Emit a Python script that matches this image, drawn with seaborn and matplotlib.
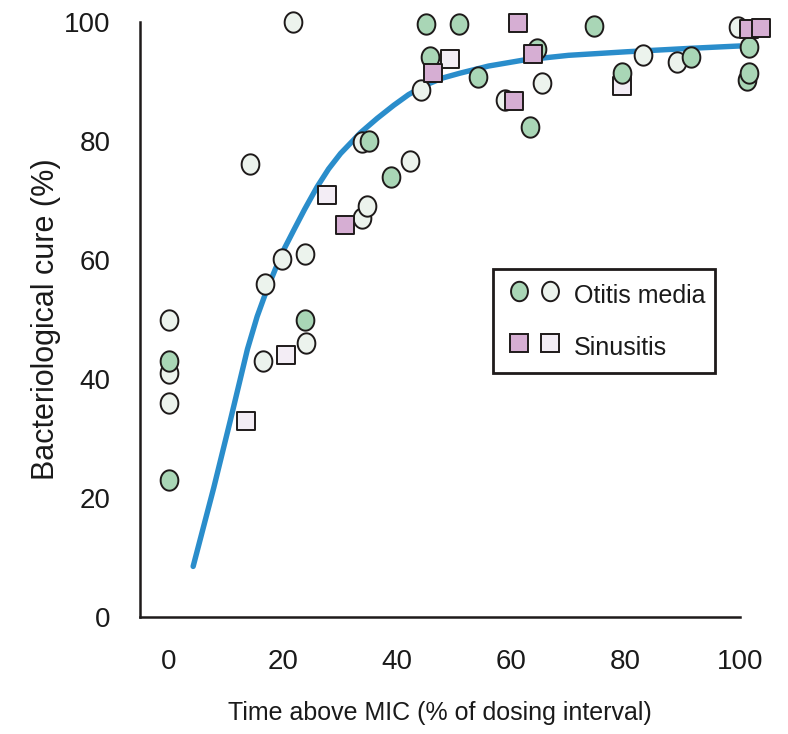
import numpy as np
import pandas as pd
import matplotlib
matplotlib.use("Agg")
import matplotlib.pyplot as plt
import seaborn as sns
from matplotlib.path import Path
from matplotlib.lines import Line2D
from matplotlib.legend_handler import HandlerTuple

# ---- data ----
otitis_filled_x = [0, 0, 23.8, 35.0, 39.0, 45.1, 45.7, 50.9, 54.1, 64.4, 63.3, 74.5, 79.3, 91.4, 101.3, 101.5, 101.6]
otitis_filled_y = [43, 23, 50, 80, 74, 99.7, 94.2, 99.7, 90.7, 95.5, 82.4, 99.4, 91.5, 94.2, 90.3, 91.5, 95.8]

otitis_open_x = [0, 0, 0, 14.2, 16.5, 16.8, 19.9, 21.7, 23.8, 24.1, 33.9, 34.8, 33.9, 42.2, 44.1, 58.9, 65.3, 83.0, 88.9, 99.6]
otitis_open_y = [50, 41, 36, 76.2, 43, 56, 60.1, 100, 61, 46, 67, 69.1, 79.9, 76.7, 88.6, 86.9, 89.7, 94.5, 93.3, 99.2]

sinus_filled_x = [30.8, 46.3, 60.4, 61.2, 63.8, 101.6, 103.7]
sinus_filled_y = [65.9, 91.5, 86.7, 99.8, 94.7, 98.8, 99.0]

sinus_open_x = [13.6, 20.6, 27.7, 49.2, 79.3]
sinus_open_y = [33, 44, 70.9, 93.8, 89.2]

curve_x = [4.3, 7.9, 10.8, 13.8, 15.5, 17.2, 18.7, 20.3, 21.9, 23.8, 26.0, 28.0, 30.1, 33.6, 36.5, 39.4, 42.0, 45.2, 48.0, 51.0, 56.0, 62.1, 70.0, 80.2, 91.8, 100.6]
curve_y = [8.5, 21.7, 33.0, 45.0, 50.5, 55.0, 58.5, 62.0, 65.0, 68.5, 72.3, 75.3, 77.9, 81.4, 83.8, 86.0, 87.8, 89.5, 90.6, 91.4, 92.6, 93.6, 94.4, 95.0, 95.6, 96.0]

x_ticks = [0, 20, 40, 60, 80, 100]
y_ticks = [0, 20, 40, 60, 80, 100]
x_label = "Time above MIC (% of dosing interval)"
y_label = "Bacteriological cure (%)"
legend_labels = ["Otitis media", "Sinusitis"]

# ---- style ----
sns.set_style("white")
plt.rcParams['font.family'] = ['Liberation Sans', 'DejaVu Sans']

GREEN = "#a9d6b6"
OPEN_C = "#ecf3ed"
PINK = "#d6aed3"
OPEN_S = "#f3edf5"
EDGE = "#1e1a1a"
BLUE = "#2a8dcb"
TXT = "#1a1a1a"

t = np.linspace(0, 2 * np.pi, 60)
ellipse = Path(np.column_stack([np.cos(t), 1.15 * np.sin(t)]), closed=True)

fig = plt.figure(figsize=(7.88, 7.34), dpi=100)
ax = fig.add_axes([140 / 788, 1 - 617 / 734, 600 / 788, 595 / 734])

sns.lineplot(x=curve_x, y=curve_y, ax=ax, color=BLUE, lw=3.9, zorder=2,
             sort=False)

common = dict(ax=ax, edgecolor=EDGE, linewidth=1.4, zorder=3, clip_on=False, legend=False)
sns.scatterplot(x=otitis_open_x, y=otitis_open_y, marker=ellipse, s=215, color=OPEN_C, **common)
sns.scatterplot(x=sinus_open_x, y=sinus_open_y, marker='s', s=165, color=OPEN_S, **common)
sns.scatterplot(x=otitis_filled_x, y=otitis_filled_y, marker=ellipse, s=215, color=GREEN, **common)
sns.scatterplot(x=sinus_filled_x, y=sinus_filled_y, marker='s', s=165, color=PINK, **common)

ax.set_xlim(-5, 100)
ax.set_ylim(0, 100)
ax.set_xticks(x_ticks)
ax.set_yticks(y_ticks)
for sp in ['top', 'right']:
    ax.spines[sp].set_visible(False)
for sp in ['left', 'bottom']:
    ax.spines[sp].set_linewidth(1.8)
    ax.spines[sp].set_color(EDGE)
ax.tick_params(axis='both', direction='out', length=10, width=1.2, color=EDGE,
               labelsize=20, labelcolor=TXT)
ax.tick_params(axis='x', pad=13)
ax.tick_params(axis='y', pad=11)

ax.set_xlabel(x_label, fontsize=18, labelpad=19, color=TXT)
ax.set_ylabel(y_label, fontsize=22, labelpad=2.5, color=TXT)

# ---- legend ----
def mk(marker, fc, ms):
    return Line2D([], [], linestyle='none', marker=marker, markersize=ms,
                  markerfacecolor=fc, markeredgecolor=EDGE, markeredgewidth=1.4)

h1 = (mk(ellipse, GREEN, 14), mk(ellipse, OPEN_C, 14))
h2 = (mk('s', PINK, 12.5), mk('s', OPEN_S, 12.5))
leg = ax.legend([h1, h2], legend_labels,
                handler_map={tuple: HandlerTuple(ndivide=None, pad=0)},
                loc='upper left', bbox_to_anchor=(493 / 788, 1 - 269 / 734),
                bbox_transform=fig.transFigure, borderaxespad=0,
                prop={'size': 18},
                handlelength=2.5, handleheight=1.6, handletextpad=0.32,
                borderpad=0.4, labelspacing=0.8, frameon=True, fancybox=False,
                framealpha=1, edgecolor=EDGE)
leg.get_frame().set_linewidth(2)
for txt in leg.get_texts():
    txt.set_color(TXT)

fig.savefig("out.png", dpi=100)
